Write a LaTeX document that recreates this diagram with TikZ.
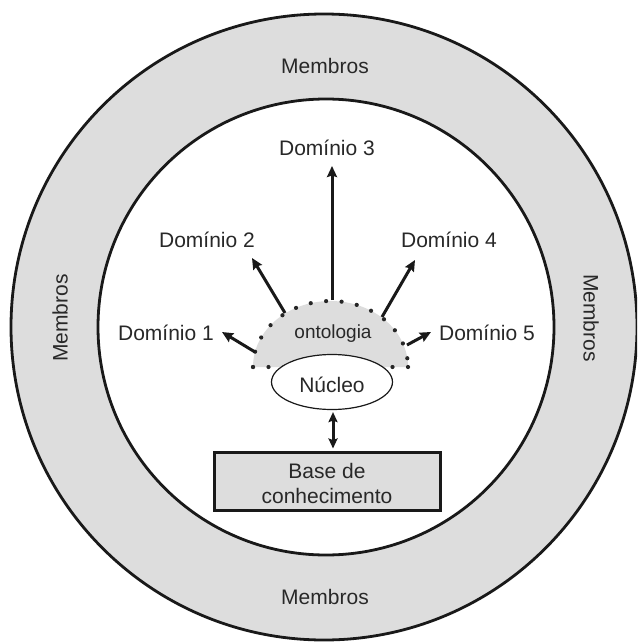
\documentclass[tikz,border=0pt]{standalone}
\usepackage{fontspec}
\setmainfont{Liberation Sans}
\usetikzlibrary{arrows.meta,shapes.geometric}
\definecolor{ringgray}{RGB}{221,221,221}
\definecolor{inkgray}{RGB}{40,40,40}
\tikzset{
  lbl/.style={text=inkgray,font=\fontsize{21}{25}\selectfont,inner sep=0pt,anchor=base},
  ray/.style={line width=3pt,draw=black!90,-{Stealth[length=11pt,width=10pt,inset=1.5pt]}},
  ring/.style={line width=2.8pt,draw=black!90},
  dotline/.style={line width=4.2pt,line cap=round,dash pattern=on 0pt off 15.5pt,draw=black!85}
}
\begin{document}
\begin{tikzpicture}[x=1pt,y=-1pt]
\useasboundingbox (0,0) rectangle (637,642);
\clip (0,0) rectangle (637,642);

% gray ring between the two circles
\fill[ringgray] (324,327) circle[radius=313pt];
\fill[white] (326,327) circle[radius=228pt];
\draw[ring] (324,327) circle[radius=313pt];
\draw[ring] (326,327) circle[radius=228pt];

% ring labels
\node[lbl,anchor=center] (mtop) at (325,66) {Membros};
\node[lbl,anchor=center] (mbot) at (325,597) {Membros};
\node[lbl,anchor=center,rotate=90] (mleft) at (60,318) {Membros};
\node[lbl,anchor=center,rotate=-90] (mright) at (591,318) {Membros};

% ontology half-disc with dotted rim
\fill[ringgray] (253,367) arc[start angle=180,end angle=0,x radius=77.5pt,y radius=66pt] -- cycle;
\draw[dotline] (253,367) arc[start angle=180,end angle=0,x radius=77.5pt,y radius=66pt];
\draw[dotline] (253,367) -- (408,367);
\node[lbl,font=\fontsize{19}{23}\selectfont] (onto) at (333,338) {ontologia};

% core
\node[ellipse,draw=black!90,line width=1.2pt,fill=white,minimum width=121pt,minimum height=55pt,inner sep=0pt] (nucleo) at (332,382) {};
\node[lbl] (nucleotxt) at (332,392) {Núcleo};

% knowledge base
\node[rectangle,draw=black!90,line width=3pt,fill=ringgray,minimum width=226pt,minimum height=58pt,inner sep=0pt] (base) at (327,481) {};
\node[lbl] (basetxt1) at (327,478) {Base de};
\node[lbl] (basetxt2) at (327,503) {conhecimento};
\draw[line width=3pt,draw=black!90,{Stealth[length=10pt,width=9pt,inset=1.5pt]}-{Stealth[length=10pt,width=9pt,inset=1.5pt]},shorten <=2pt,shorten >=2pt] (nucleo.south -| 333,0) -- (base.north -| 333,0);

% domain labels
\node[lbl] (d1) at (166,340) {Domínio 1};
\node[lbl] (d2) at (207,247) {Domínio 2};
\node[lbl] (d3) at (327,155) {Domínio 3};
\node[lbl] (d4) at (449,247) {Domínio 4};
\node[lbl] (d5) at (487,340) {Domínio 5};

% arrow ends
\coordinate (t1) at (255,352); \coordinate (h1) at (222,332);
\coordinate (t2) at (285,313); \coordinate (h2) at (252,258);
\coordinate (t3) at (332,300); \coordinate (h3) at (332,166);
\coordinate (t4) at (382,317); \coordinate (h4) at (415,260);
\coordinate (t5) at (407,345); \coordinate (h5) at (431,332);
\foreach \i in {1,...,5} { \draw[ray] (t\i) -- (h\i); }
\end{tikzpicture}
\end{document}
